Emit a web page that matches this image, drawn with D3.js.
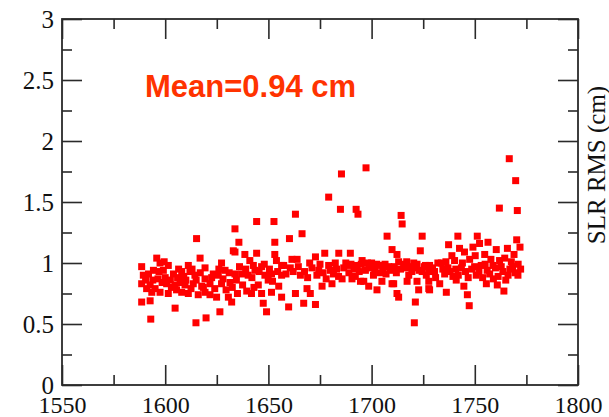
<!DOCTYPE html>
<html>
<head>
<meta charset="utf-8">
<script src="https://cdn.jsdelivr.net/npm/d3@7"></script>
<style>
	body { margin: 0; background: #fff; }
	svg { display: block; }
</style>
</head>
<body>
<div id="chart"></div>
<script>
var xTicks = [1550, 1600, 1650, 1700, 1750, 1800]
var xMinor = [1575, 1625, 1675, 1725, 1775]
var yTicks = [0, 0.5, 1, 1.5, 2, 2.5, 3]
var yMinor = [0.25, 0.75, 1.25, 1.75, 2.25, 2.75]
var yLabel = "SLR RMS (cm)"
var meanLabel = "Mean=0.94 cm"

// [day, rms in cm]
var slrRms = [
	[1588.6,0.97],[1588.6,0.83],[1588.6,0.68],[1589.4,0.90],[1590.5,0.86],[1591,0.79],[1591.9,0.91],[1592.7,0.82],
	[1592.7,0.69],[1593,0.54],[1593.5,0.76],[1594,0.86],[1594.3,0.94],[1595.1,0.79],[1595.9,1.04],[1596.5,0.87],
	[1597,0.93],[1597.5,1.00],[1597.5,0.76],[1598.5,0.84],[1599.1,0.94],[1599.5,1.01],[1600,0.88],[1600.7,0.83],
	[1601.5,0.98],[1601.5,0.75],
	[1602.5,0.86],[1603,0.80],[1604,0.91],[1604.8,0.82],[1604.8,0.63],[1605.5,0.78],[1606,0.88],[1606.5,0.95],
	[1607.2,0.84],[1608,0.93],[1608,0.76],[1609,0.89],[1609.6,0.82],[1610,0.86],[1611.2,0.98],[1611.2,0.75],
	[1612,0.93],[1612.5,0.79],[1613,0.95],[1613.6,0.83],[1614.4,0.90],[1614.9,0.51],[1615,0.86],[1615.2,1.20],
	[1616,0.74],[1616.9,1.04],[1617,0.92],[1617.7,0.81],[1618.5,0.80],[1619.3,0.96],[1619.3,0.87],[1619.3,0.76],
	[1619.8,0.55],
	[1621.7,0.83],[1621.7,0.74],[1622.5,0.88],[1623.3,0.91],[1624,0.79],[1624.9,0.72],[1625.7,0.90],[1626,0.95],
	[1626.5,0.60],[1627.3,1.00],[1627.3,0.83],[1628,0.87],[1629,0.94],[1629.5,0.78],[1630.6,0.72],[1631,0.92],
	[1631.4,0.84],[1632.2,0.68],[1632.5,0.80],[1633,1.10],[1633.8,1.28],[1633.8,1.09],[1633.8,0.91],[1634.5,0.86],
	[1635,0.75],[1635.7,1.17],[1636,0.97],[1637,0.91],[1637.5,0.82],[1638.6,1.07],[1639,0.95],[1639.5,0.77],
	[1640.2,0.90],
	[1641,1.02],[1641.8,0.75],[1642,0.88],[1642.7,0.98],[1643,0.80],[1643.5,0.94],[1644.3,1.08],[1644.3,1.34],
	[1645.1,0.82],[1645.5,0.93],[1646.7,0.97],[1646.7,0.75],[1647.5,0.67],[1648,0.99],[1648.3,0.90],[1649.1,0.60],
	[1649.9,0.86],[1650.5,0.95],[1651.5,0.91],[1651.5,0.76],[1652,0.85],[1652.7,1.34],[1653.1,1.17],[1653.1,1.07],
	[1653.9,1.02],[1654.5,0.93],[1655,0.81],[1656.4,0.98],[1656.4,0.90],[1656.4,0.72],
	[1657.4,0.98],[1658.5,0.91],[1659.8,0.64],[1660.2,1.20],[1660.6,0.96],[1661.4,1.03],[1662,0.93],[1663.1,1.40],
	[1663.1,0.75],[1663.9,1.03],[1664.5,0.97],[1665.5,0.90],[1666.3,1.24],[1667.1,0.67],[1667.5,0.93],[1668.7,0.79],
	[1669,0.88],[1670,1.00],[1670.3,0.75],[1671.1,0.96],[1672.8,1.05],[1672.8,0.66],[1673.5,0.90],[1674.4,0.94],
	[1675,0.99],[1676,0.81],[1676.5,0.92],[1677.3,1.08],[1678,0.87],[1679.2,1.54],[1679.2,0.98],[1680,0.94],
	[1680.8,0.83],[1681.5,0.91],[1682.4,1.00],[1683,0.95],[1684,0.89],[1684.1,1.08],[1684.9,1.44],[1685.4,1.73],
	[1685.7,0.87],[1686.5,0.96],[1687.5,1.00],[1688.9,0.98],[1689,0.92],[1689.7,1.08],[1690,0.99],[1690.5,0.87],
	[1691.5,0.95],[1692.1,0.89],[1692.5,1.44],[1693,0.98],[1693.4,1.40],[1694,0.93],[1694.6,0.85],[1695,0.99],
	[1695.4,1.02],[1696.2,0.85],[1697,0.94],[1697.3,1.78],[1698,1.00],[1698.6,0.98],[1698.6,0.81],[1699.5,0.96],
	[1700,1.00],[1700.9,0.90],[1701.5,0.95],[1702.5,0.99],[1702.6,0.78],[1703.4,0.98],[1704,0.92],[1705,0.85],
	[1705.5,0.96],[1706.5,0.99],[1707,0.91],[1707.5,1.22],[1708.3,0.97],[1709,0.94],[1709.9,1.11],[1709.9,0.83],
	[1710.7,0.83],[1711,0.97],[1712,0.92],[1712.3,1.07],[1712.3,0.75],[1713.1,1.01],[1713.1,0.72],[1714,0.95],
	[1714.3,1.39],[1714.8,1.32],[1715.5,0.99],[1716.4,0.96],[1717,1.01],[1717.2,0.85],[1718,0.90],[1718.5,0.97],
	[1719.5,0.93],[1720.4,1.00],[1720.7,0.51],[1721,0.96],[1721.2,0.68],[1722,0.99],[1722,0.85],[1722.8,0.78],
	[1723,0.94],[1723.6,1.10],[1724.5,1.22],[1724.5,0.93],[1725.5,0.97],[1726.1,0.98],[1726.5,0.90],[1727.7,0.93],
	[1727.7,0.85],[1727.7,0.79],
	[1728.1,0.98],[1728.1,0.78],[1729.5,0.96],[1730.5,0.93],[1731,0.88],[1732.1,1.00],[1733,0.83],[1733.8,1.00],
	[1734.5,0.95],[1735.4,0.91],[1736,1.01],[1736.2,0.76],[1737,0.96],[1737.3,1.15],[1738,0.93],[1738.9,1.06],
	[1739.4,0.89],[1740.2,1.02],[1740.8,0.95],[1741,0.86],[1741.8,1.22],[1742,0.90],[1742.6,1.12],[1743.5,0.96],
	[1744,1.00],[1744.7,0.81],[1745,1.09],[1745.5,0.93],[1746.4,0.74],[1746.8,0.88],[1747.3,0.65],[1747.5,1.03],
	[1748.5,0.95],[1749.1,1.13],[1749.9,0.97],[1750.2,1.06],[1750.7,0.90],[1751.2,1.22],[1752,0.93],[1752.3,1.16],
	[1753.1,0.98],[1753.8,0.88],[1754.8,1.07],[1755,0.99],[1755.6,0.83],[1756,0.94],[1756.4,1.17],[1757.2,0.91],
	[1757.8,1.03],[1758.8,0.98],[1759,0.87],[1760,0.96],[1760.4,1.11],[1760.9,0.82],[1761.3,0.89],[1761.9,1.45],
	[1762,1.02],[1762.8,0.97],[1763.6,0.93],[1764.1,0.77],[1764.5,1.04],[1765,0.86],[1765.8,1.12],[1766.1,0.90],
	[1766.7,1.855],[1767,0.95],[1767.7,1.01],[1768.3,0.97],[1769,1.07],[1769.5,0.92],[1769.8,1.675],[1770.3,1.19],
	[1770.6,1.43],[1770.9,0.90],[1771,0.99],[1771.9,1.13],[1772.2,0.95]
]

var W = 609, H = 417
var svg = d3.select("#chart").append("svg").attr("width", W).attr("height", H)

var x = d3.scaleLinear().domain([1550, 1800]).range([62, 578])
var y = d3.scaleLinear().domain([0, 3]).range([385, 19])
var axisColor = "#2a2a2a"
var serif = "'Liberation Serif', 'Times New Roman', serif"

function addAxis(axis, tx, ty) {
	var g = svg.append("g").attr("transform", "translate(" + tx + "," + ty + ")").call(axis)
	g.select(".domain").remove()
	g.selectAll(".tick line").attr("stroke", axisColor).attr("stroke-width", 1.6)
	g.selectAll(".tick text").attr("font-family", serif).attr("font-size", 24).attr("fill", "#111")
	return g
}

// major ticks with labels (bottom + left), plain on top + right
var bottom = addAxis(d3.axisBottom(x).tickValues(xTicks).tickSize(-20).tickPadding(0).tickFormat(d3.format("d")), 0, y(0))
bottom.selectAll(".tick text").attr("y", 0).attr("dy", 28)
addAxis(d3.axisBottom(x).tickValues(xMinor).tickSize(-10).tickFormat(""), 0, y(0))
addAxis(d3.axisTop(x).tickValues(xTicks).tickSize(-20).tickFormat(""), 0, y(3))
addAxis(d3.axisTop(x).tickValues(xMinor).tickSize(-10).tickFormat(""), 0, y(3))

var left = addAxis(d3.axisLeft(y).tickValues(yTicks).tickSize(-20).tickFormat(function(d){ return d3.format("")(d) }), x(1550), 0)
left.selectAll(".tick text").attr("x", -8).attr("dy", "0.34em").attr("font-size", 25)
addAxis(d3.axisLeft(y).tickValues(yMinor).tickSize(-10).tickFormat(""), x(1550), 0)
addAxis(d3.axisRight(y).tickValues(yTicks).tickSize(-20).tickFormat(""), x(1800), 0)
addAxis(d3.axisRight(y).tickValues(yMinor).tickSize(-10).tickFormat(""), x(1800), 0)

svg.append("rect")
	.attr("x", x(1550)).attr("y", y(3))
	.attr("width", x(1800) - x(1550)).attr("height", y(0) - y(3))
	.attr("fill", "none").attr("stroke", axisColor).attr("stroke-width", 1.8)

var s = 7
svg.append("g").selectAll("rect").data(slrRms).enter().append("rect")
	.attr("x", function(d){ return x(d[0]) - s / 2 })
	.attr("y", function(d){ return y(d[1]) - s / 2 })
	.attr("width", s).attr("height", s)
	.attr("fill", "#ff0000")

svg.append("text")
	.attr("x", 145).attr("y", 97)
	.attr("font-family", "'Liberation Sans', Arial, sans-serif")
	.attr("font-weight", "bold").attr("font-size", 31)
	.attr("fill", "#ff3300")
	.text(meanLabel)

svg.append("text")
	.attr("transform", "translate(605,165) rotate(-90)")
	.attr("text-anchor", "middle")
	.attr("font-family", serif).attr("font-size", 25).attr("fill", "#111")
	.text(yLabel)
</script>
</body>
</html>
